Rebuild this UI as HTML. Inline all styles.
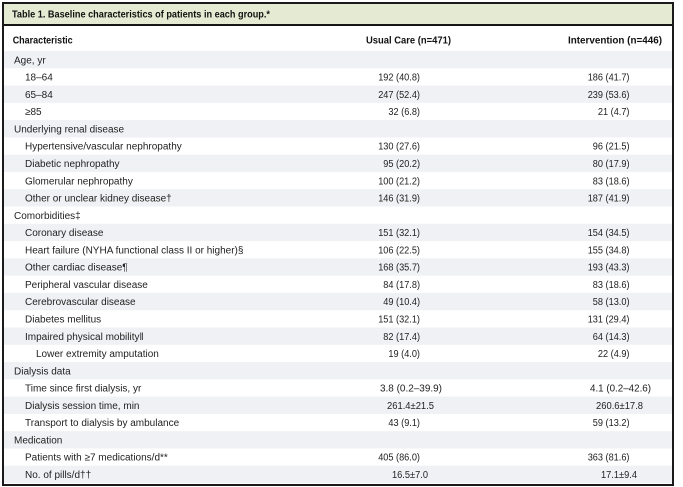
<!DOCTYPE html>
<html>
<head>
<meta charset="utf-8">
<style>
  html,body{margin:0;padding:0;background:#fff;}
  svg{display:block;}
  text{font-family:"Liberation Sans",Arial,sans-serif;font-size:10px;fill:#222;}
  .b{font-weight:bold;fill:#111;}
</style>
</head>
<body>
<svg width="683" height="487" viewBox="0 0 683 487" xmlns="http://www.w3.org/2000/svg">
  <rect x="0" y="0" width="683" height="487" fill="#fff"/>
  <!-- title bar -->
  <rect x="3" y="3" width="670" height="21.5" fill="#e4ebd2"/>
  <!-- row shading (even rows gray) -->
  <g fill="#eff1f4">
    <rect x="4" y="51" width="668" height="17.28"/>
    <rect x="4" y="85.56" width="668" height="17.28"/>
    <rect x="4" y="120.12" width="668" height="17.28"/>
    <rect x="4" y="154.68" width="668" height="17.28"/>
    <rect x="4" y="189.24" width="668" height="17.28"/>
    <rect x="4" y="223.8" width="668" height="17.28"/>
    <rect x="4" y="258.36" width="668" height="17.28"/>
    <rect x="4" y="292.92" width="668" height="17.28"/>
    <rect x="4" y="327.48" width="668" height="17.28"/>
    <rect x="4" y="362.04" width="668" height="17.28"/>
    <rect x="4" y="396.6" width="668" height="17.28"/>
    <rect x="4" y="431.16" width="668" height="17.28"/>
    <rect x="4" y="465.72" width="668" height="17.28"/>
  </g>
  <!-- line under title -->
  <rect x="3" y="24" width="670" height="2" fill="#151515"/>
  <!-- outer border -->
  <rect x="3" y="3" width="670" height="482" fill="none" stroke="#1a1a1a" stroke-width="2"/>

  <!-- title -->
  <text class="b" x="12" y="17.5" textLength="258" lengthAdjust="spacingAndGlyphs">Table 1. Baseline characteristics of patients in each group.*</text>
  <!-- header -->
  <text class="b" x="12.7" y="43.5" textLength="60" lengthAdjust="spacingAndGlyphs">Characteristic</text>
  <text class="b" x="366" y="43.5" textLength="85" lengthAdjust="spacingAndGlyphs">Usual Care (n=471)</text>
  <text class="b" x="568" y="43.5" textLength="94" lengthAdjust="spacingAndGlyphs">Intervention (n=446)</text>

  <!-- left labels -->
  <text x="14" y="63.3">Age, yr</text>
  <text x="25" y="80.58">18–64</text>
  <text x="25" y="97.86">65–84</text>
  <text x="25" y="115.14">≥85</text>
  <text x="14" y="132.42">Underlying renal disease</text>
  <text x="25" y="149.7">Hypertensive/vascular nephropathy</text>
  <text x="25" y="166.98">Diabetic nephropathy</text>
  <text x="25" y="184.26">Glomerular nephropathy</text>
  <text x="25" y="201.54">Other or unclear kidney disease†</text>
  <text x="14" y="218.82">Comorbidities‡</text>
  <text x="25" y="236.1">Coronary disease</text>
  <text x="25" y="253.38">Heart failure (NYHA functional class II or higher)§</text>
  <text x="25" y="270.66">Other cardiac disease¶</text>
  <text x="25" y="287.94">Peripheral vascular disease</text>
  <text x="25" y="305.22">Cerebrovascular disease</text>
  <text x="25" y="322.5">Diabetes mellitus</text>
  <text x="25" y="339.78">Impaired physical mobility‖</text>
  <text x="36" y="357.06">Lower extremity amputation</text>
  <text x="14" y="374.34">Dialysis data</text>
  <text x="25" y="391.62">Time since first dialysis, yr</text>
  <text x="25" y="408.9">Dialysis session time, min</text>
  <text x="25" y="426.18">Transport to dialysis by ambulance</text>
  <text x="14" y="443.46">Medication</text>
  <text x="25" y="460.74">Patients with ≥7 medications/d**</text>
  <text x="25" y="478.02">No. of pills/d††</text>

  <!-- middle column values -->
  <g>
    <text x="378.2" y="80.58" textLength="41.8" lengthAdjust="spacingAndGlyphs">192 (40.8)</text>
    <text x="378.2" y="97.86" textLength="41.8" lengthAdjust="spacingAndGlyphs">247 (52.4)</text>
    <text x="388.4" y="115.14" textLength="31.6" lengthAdjust="spacingAndGlyphs">32 (6.8)</text>
    <text x="378.2" y="149.7" textLength="41.8" lengthAdjust="spacingAndGlyphs">130 (27.6)</text>
    <text x="383.3" y="166.98" textLength="36.7" lengthAdjust="spacingAndGlyphs">95 (20.2)</text>
    <text x="378.2" y="184.26" textLength="41.8" lengthAdjust="spacingAndGlyphs">100 (21.2)</text>
    <text x="378.2" y="201.54" textLength="41.8" lengthAdjust="spacingAndGlyphs">146 (31.9)</text>
    <text x="378.2" y="236.1" textLength="41.8" lengthAdjust="spacingAndGlyphs">151 (32.1)</text>
    <text x="378.2" y="253.38" textLength="41.8" lengthAdjust="spacingAndGlyphs">106 (22.5)</text>
    <text x="378.2" y="270.66" textLength="41.8" lengthAdjust="spacingAndGlyphs">168 (35.7)</text>
    <text x="383.3" y="287.94" textLength="36.7" lengthAdjust="spacingAndGlyphs">84 (17.8)</text>
    <text x="383.3" y="305.22" textLength="36.7" lengthAdjust="spacingAndGlyphs">49 (10.4)</text>
    <text x="378.2" y="322.5" textLength="41.8" lengthAdjust="spacingAndGlyphs">151 (32.1)</text>
    <text x="383.3" y="339.78" textLength="36.7" lengthAdjust="spacingAndGlyphs">82 (17.4)</text>
    <text x="388.4" y="357.06" textLength="31.6" lengthAdjust="spacingAndGlyphs">19 (4.0)</text>
    <text x="380" y="391.62" textLength="62" lengthAdjust="spacingAndGlyphs">3.8 (0.2–39.9)</text>
    <text x="387" y="408.9" textLength="47" lengthAdjust="spacingAndGlyphs">261.4±21.5</text>
    <text x="388.4" y="426.18" textLength="31.6" lengthAdjust="spacingAndGlyphs">43 (9.1)</text>
    <text x="378.2" y="460.74" textLength="41.8" lengthAdjust="spacingAndGlyphs">405 (86.0)</text>
    <text x="392" y="478.02" textLength="36" lengthAdjust="spacingAndGlyphs">16.5±7.0</text>
  </g>

  <!-- right column values -->
  <g>
    <text x="587.7" y="80.58" textLength="41.8" lengthAdjust="spacingAndGlyphs">186 (41.7)</text>
    <text x="587.7" y="97.86" textLength="41.8" lengthAdjust="spacingAndGlyphs">239 (53.6)</text>
    <text x="597.9" y="115.14" textLength="31.6" lengthAdjust="spacingAndGlyphs">21 (4.7)</text>
    <text x="592.8" y="149.7" textLength="36.7" lengthAdjust="spacingAndGlyphs">96 (21.5)</text>
    <text x="592.8" y="166.98" textLength="36.7" lengthAdjust="spacingAndGlyphs">80 (17.9)</text>
    <text x="592.8" y="184.26" textLength="36.7" lengthAdjust="spacingAndGlyphs">83 (18.6)</text>
    <text x="587.7" y="201.54" textLength="41.8" lengthAdjust="spacingAndGlyphs">187 (41.9)</text>
    <text x="587.7" y="236.1" textLength="41.8" lengthAdjust="spacingAndGlyphs">154 (34.5)</text>
    <text x="587.7" y="253.38" textLength="41.8" lengthAdjust="spacingAndGlyphs">155 (34.8)</text>
    <text x="587.7" y="270.66" textLength="41.8" lengthAdjust="spacingAndGlyphs">193 (43.3)</text>
    <text x="592.8" y="287.94" textLength="36.7" lengthAdjust="spacingAndGlyphs">83 (18.6)</text>
    <text x="592.8" y="305.22" textLength="36.7" lengthAdjust="spacingAndGlyphs">58 (13.0)</text>
    <text x="587.7" y="322.5" textLength="41.8" lengthAdjust="spacingAndGlyphs">131 (29.4)</text>
    <text x="592.8" y="339.78" textLength="36.7" lengthAdjust="spacingAndGlyphs">64 (14.3)</text>
    <text x="597.9" y="357.06" textLength="31.6" lengthAdjust="spacingAndGlyphs">22 (4.9)</text>
    <text x="590" y="391.62" textLength="61" lengthAdjust="spacingAndGlyphs">4.1 (0.2–42.6)</text>
    <text x="596" y="408.9" textLength="47" lengthAdjust="spacingAndGlyphs">260.6±17.8</text>
    <text x="592.8" y="426.18" textLength="36.7" lengthAdjust="spacingAndGlyphs">59 (13.2)</text>
    <text x="587.7" y="460.74" textLength="41.8" lengthAdjust="spacingAndGlyphs">363 (81.6)</text>
    <text x="601" y="478.02" textLength="36" lengthAdjust="spacingAndGlyphs">17.1±9.4</text>
  </g>
</svg>
</body>
</html>
